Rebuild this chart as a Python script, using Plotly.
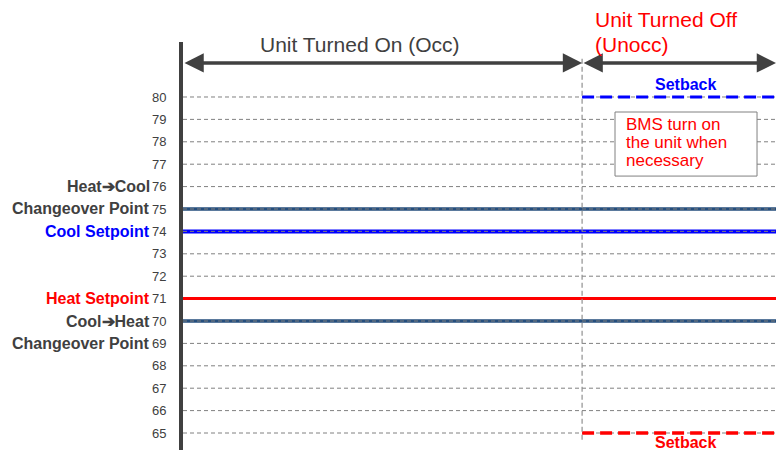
import plotly.graph_objects as go

# ---- data ----
y_ticks = list(range(65, 81))
t_occ_start = 0.0
t_transition = 0.673
t_end = 1.0

changeover_heat_to_cool = 75
cool_setpoint = 74
heat_setpoint = 71
changeover_cool_to_heat = 70
setback_cool = 80
setback_heat = 65

left_labels = [
    ("Heat\u2794Cool", 76, "#404040"),
    ("Changeover Point", 75, "#404040"),
    ("Cool Setpoint", 74, "#0000FF"),
    ("Heat Setpoint", 71, "#FF0000"),
    ("Cool\u2794Heat", 70, "#404040"),
    ("Changeover Point", 69, "#404040"),
]

box_lines = ["BMS turn on", "the unit when", "necessary"]

DARK = "#404040"
NAVY = "#254E7D"
GRID = "#808080"
FONT = "Liberation Sans, Arial, sans-serif"

W, H = 776, 450
PLOT_H = 408

def paper_y(py):
    return (450 - py) / PLOT_H

fig = go.Figure()

def hline(x0, x1, y, color, width, dash="solid"):
    fig.add_trace(go.Scatter(x=[x0, x1], y=[y, y], mode="lines",
                             line=dict(color=color, width=width, dash=dash),
                             hoverinfo="skip", showlegend=False))

# solid setpoint lines (grid shows over these in the reference)
hline(t_occ_start, t_end, changeover_heat_to_cool, NAVY, 3.5)
hline(t_occ_start, t_end, changeover_cool_to_heat, NAVY, 3.5)
hline(t_occ_start, t_end, cool_setpoint, "#0000FF", 4)

# dashed grid lines
for v in y_ticks:
    hline(t_occ_start, t_end, v, GRID, 1, "4px,3px")

# heat setpoint drawn above grid
hline(t_occ_start, t_end, heat_setpoint, "#FF0000", 3)

# setback lines
hline(t_transition, t_end, setback_cool, "#0000FF", 3, "12px,6px")
hline(t_transition, t_end, setback_heat, "#FF0000", 3.5, "12px,6px")

# vertical transition divider
fig.add_trace(go.Scatter(x=[t_transition, t_transition], y=[64.7, 81.8], mode="lines",
                         line=dict(color="#909090", width=1.2, dash="5px,3px"),
                         hoverinfo="skip", showlegend=False))

arrow_y = 81.52
annotations = []
for x0, x1 in [(t_occ_start, t_transition), (t_transition, t_end)]:
    annotations.append(dict(x=x1, y=arrow_y, ax=x0, ay=arrow_y, xref="x", yref="y",
                            axref="x", ayref="y", text="", showarrow=True,
                            arrowhead=2, arrowside="end+start", arrowsize=1.1,
                            arrowwidth=3.5, arrowcolor=DARK, standoff=0, startstandoff=0))

annotations.append(dict(x=0.298, y=paper_y(45), xref="x", yref="paper",
                        text="Unit Turned On (Occ)",
                        showarrow=False, font=dict(size=21, color=DARK, family=FONT),
                        xanchor="center", yanchor="middle"))
annotations.append(dict(x=0.691, y=paper_y(20), xref="x", yref="paper",
                        text="Unit Turned Off", align="left",
                        showarrow=False, font=dict(size=21, color="#FF0000", family=FONT),
                        xanchor="left", yanchor="middle"))
annotations.append(dict(x=0.691, y=paper_y(45), xref="x", yref="paper",
                        text="(Unocc)", align="left",
                        showarrow=False, font=dict(size=21, color="#FF0000", family=FONT),
                        xanchor="left", yanchor="middle"))

for text, yv, col in left_labels:
    annotations.append(dict(x=-0.052, y=yv, xref="paper", yref="y", text="<b>%s</b>" % text,
                            showarrow=False, font=dict(size=16, color=col, family=FONT),
                            xanchor="right", yanchor="middle"))

annotations.append(dict(x=0.847, y=setback_cool + 0.58, xref="x", yref="y", text="<b>Setback</b>",
                        showarrow=False, font=dict(size=16, color="#0000FF", family=FONT),
                        xanchor="center", yanchor="middle"))
annotations.append(dict(x=0.847, y=setback_heat - 0.42, xref="x", yref="y", text="<b>Setback</b>",
                        showarrow=False, font=dict(size=16, color="#FF0000", family=FONT),
                        xanchor="center", yanchor="middle"))

for i, line in enumerate(box_lines):
    annotations.append(dict(x=0.744, y=78.75 - i * 0.8, xref="x", yref="y", text=line,
                            showarrow=False, font=dict(size=17, color="#FF0000", family=FONT),
                            xanchor="left", yanchor="middle"))

shapes = [dict(type="rect", xref="x", yref="y", x0=0.7285, x1=0.968, y0=76.47, y1=79.33,
               line=dict(color="#808080", width=1), fillcolor="white", layer="above")]

fig.update_layout(
    width=W, height=H,
    margin=dict(l=183, r=0, t=42, b=0, autoexpand=False),
    paper_bgcolor="white", plot_bgcolor="white",
    font=dict(family=FONT, color=DARK),
    showlegend=False,
    annotations=annotations,
    shapes=shapes,
    xaxis=dict(range=[0, 1], showgrid=False, zeroline=False, showticklabels=False,
               showline=False, fixedrange=True, automargin=False),
    yaxis=dict(range=[64.241, 82.455], tickvals=y_ticks, ticktext=[str(v) for v in y_ticks],
               showgrid=False, zeroline=False, showline=True, linecolor=DARK, linewidth=4,
               ticks="outside", ticklen=10, tickcolor="rgba(0,0,0,0)", automargin=False,
               layer="above traces",
               tickfont=dict(size=13, color=DARK, family=FONT), fixedrange=True),
)

fig.write_html("out.html",
               config={"displayModeBar": False, "staticPlot": True},
               post_script="document.body.style.margin='0';"
                           "document.documentElement.style.overflow='hidden';"
                           "document.body.style.overflow='hidden';")
